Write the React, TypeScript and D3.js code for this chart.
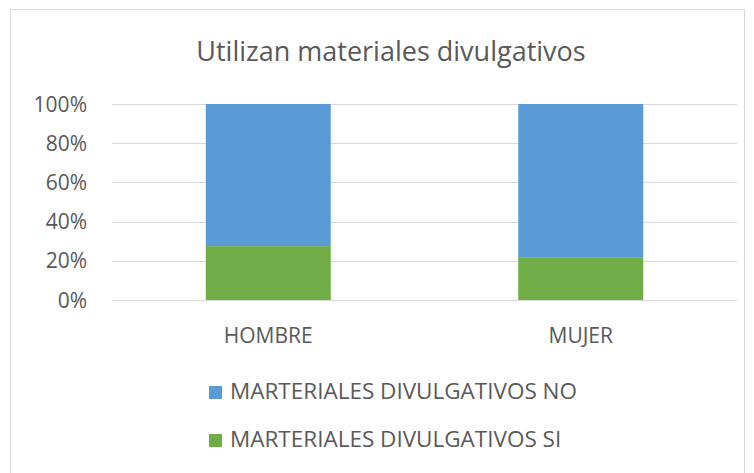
import React from "react";
import * as d3 from "d3";

const categories = ["HOMBRE", "MUJER"];
const seriesNames = ["MARTERIALES DIVULGATIVOS SI", "MARTERIALES DIVULGATIVOS NO"];
const valuesSi = [0.275, 0.215];
const valuesNo = [0.725, 0.785];
const yTicks = [0, 0.2, 0.4, 0.6, 0.8, 1.0];
const colors = ["#70AD47", "#5B9BD5"];

const W = 754, H = 473;
const FONT = "'Open Sans', 'Noto Sans', sans-serif";
const TXT = "#595959";

export default function App() {
  const x = d3.scaleBand<string>().domain(categories).range([112, 737]).paddingInner(0.6).paddingOuter(0.3);
  const y = d3.scaleLinear().domain([0, 1]).range([300, 104]);
  const rows = categories.map((c, i) => ({ cat: c, si: valuesSi[i], no: valuesNo[i] }));
  const stack = d3.stack<any>().keys(["si", "no"])(rows);
  const fmt = d3.format(".0%");
  const legendOrder = [1, 0];
  return (
    <svg width={W} height={H} style={{ position: "absolute", left: 0, top: 0, background: "#fff" }} fontFamily={FONT}>
      <rect x={10.5} y={9.5} width={734} height={470} fill="#fff" stroke="#d9d9d9" />
      <text x={391} y={61} textAnchor="middle" fontSize={27} fill={TXT}>Utilizan materiales divulgativos</text>
      {yTicks.map((t) => (
        <g key={t}>
          <line x1={112} x2={737} y1={Math.round(y(t)) + 0.5} y2={Math.round(y(t)) + 0.5} stroke="#d9d9d9" />
          <text x={87} y={y(t) + 7.5} textAnchor="end" fontSize={21} fill={TXT}>{fmt(t)}</text>
        </g>
      ))}
      {stack.map((s, si) => (
        <g key={si} fill={colors[si]}>
          {s.map((d: any, i: number) => (
            <rect key={i} x={x(d.data.cat)} width={x.bandwidth()} y={y(d[1])} height={y(d[0]) - y(d[1])} />
          ))}
        </g>
      ))}
      {categories.map((c) => (
        <text key={c} x={(x(c) as number) + x.bandwidth() / 2} y={343} textAnchor="middle" fontSize={21} fill={TXT}>{c}</text>
      ))}
      {legendOrder.map((k, i) => (
        <g key={k} transform={`translate(209, ${399 + i * 48})`}>
          <rect x={0} y={-13} width={13} height={13} fill={colors[k]} />
          <text x={21} y={0} fontSize={22.5} fill={TXT}>{seriesNames[k]}</text>
        </g>
      ))}
    </svg>
  );
}
